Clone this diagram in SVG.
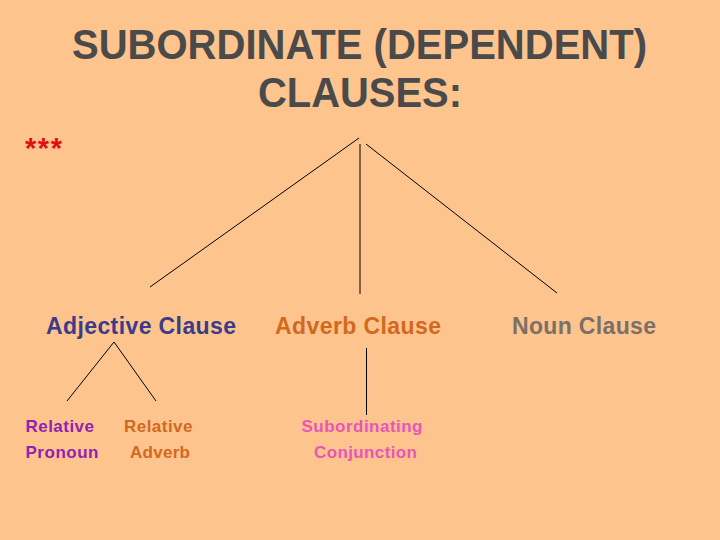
<svg xmlns="http://www.w3.org/2000/svg" width="720" height="540" viewBox="0 0 720 540">
<style>
text{font-family:"Liberation Sans",Arial,sans-serif}
.title{font-size:42px;font-weight:bold;fill:#4a4a4a}
.clause{font-size:23px;font-weight:bold}
.sub{font-size:17px;font-weight:bold}
.conn line{stroke:#000;stroke-width:1}
</style>
<rect width="720" height="540" fill="#fdc48e"/>
<g id="title">
<text class="title" x="72" y="59" textLength="575" lengthAdjust="spacingAndGlyphs">SUBORDINATE (DEPENDENT)</text>
<text class="title" x="258" y="107" textLength="204" lengthAdjust="spacingAndGlyphs">CLAUSES:</text>
</g>
<g id="stars"><text x="25" y="158" font-size="29" font-weight="bold" fill="#e01010" textLength="37">***</text></g>
<g class="conn" id="connectors">
<line x1="359" y1="138" x2="150" y2="287"/>
<line x1="360" y1="144" x2="360" y2="294"/>
<line x1="366" y1="144" x2="557" y2="293"/>
<line x1="114" y1="342" x2="67" y2="401"/>
<line x1="114" y1="342" x2="156" y2="401"/>
<line x1="366.5" y1="348" x2="366.5" y2="415"/>
</g>
<g id="adjective"><text class="clause" x="46" y="334" textLength="190" fill="#3b3b8a">Adjective Clause</text></g>
<g id="adverb"><text class="clause" x="275" y="334" textLength="166" fill="#d2691e">Adverb Clause</text></g>
<g id="noun"><text class="clause" x="512" y="334" textLength="144" fill="#7a7068">Noun Clause</text></g>
<g id="relpronoun" class="sub" fill="#9420b0">
<text x="25.5" y="432" textLength="68.5">Relative</text>
<text x="25.5" y="458" textLength="73">Pronoun</text>
</g>
<g id="reladverb" class="sub" fill="#d2691e">
<text x="124" y="432" textLength="68.5">Relative</text>
<text x="130" y="458" textLength="60">Adverb</text>
</g>
<g id="subconj" class="sub" fill="#ea55b8">
<text x="301.5" y="432" textLength="121">Subordinating</text>
<text x="314" y="458" textLength="103">Conjunction</text>
</g>
</svg>
